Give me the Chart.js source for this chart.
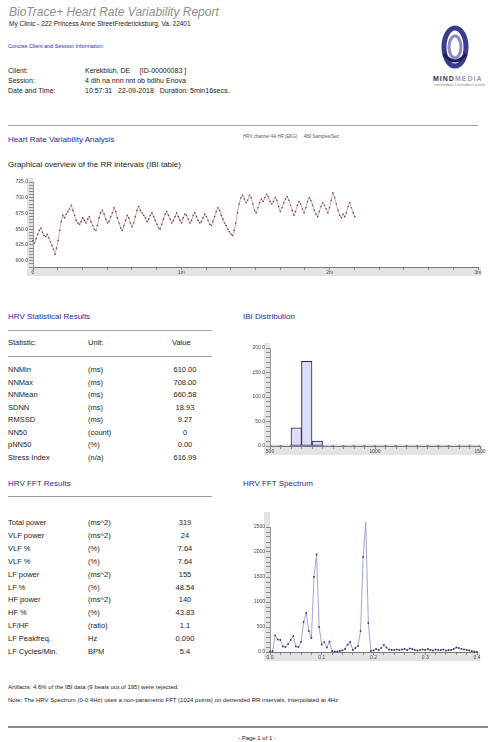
<!DOCTYPE html>
<html>
<head>
<meta charset="utf-8">
<title>BioTrace+ Heart Rate Variability Report</title>
<script src="https://cdn.jsdelivr.net/npm/chart.js@4.4.0/dist/chart.umd.min.js"></script>
<style>
  body { margin:0; width:488px; height:742px; background:#fff; position:relative; overflow:hidden;
         font-family:"Liberation Sans", Arial, sans-serif; color:#222; }
  .t { position:absolute; white-space:nowrap; line-height:1; }
  .blue { color:#2a2aa8; }
  .hr { position:absolute; height:0; border-top:1px solid #a0a0a0; }
  .box { position:absolute; }
</style>
</head>
<body>

<div class="t" style="left:9px; top:6px; font-size:12px; font-style:italic; color:#8e8e8e;">BioTrace+ Heart Rate Variability Report</div>
<div class="t" style="left:9px; top:21px; font-size:6.5px;">My Clinic - 222 Princess Anne StreetFredericksburg, Va. 22401</div>

<div class="t blue" style="left:8px; top:44px; font-size:5.4px;">Concise Client and Session Information:</div>

<div class="t" style="left:8px; top:67px; font-size:7px;">Client:</div>
<div class="t" style="left:85px; top:67px; font-size:7px;">Kerekbluh, DE &nbsp;&nbsp;&nbsp; [ID-00000083 ]</div>
<div class="t" style="left:8px; top:77px; font-size:7px;">Session:</div>
<div class="t" style="left:85px; top:77px; font-size:7px;">4 dih na nnn nnt ob bdihu Enova</div>
<div class="t" style="left:8px; top:87px; font-size:7px;">Date and Time:</div>
<div class="t" style="left:85px; top:87px; font-size:7px;">10:57:31 &nbsp; 22-09-2018 &nbsp; Duration: 5min16secs.</div>

<!-- logo -->
<svg class="box" style="left:440px; top:24px;" width="30" height="46" viewBox="0 0 30 46">
  <ellipse cx="15" cy="23" rx="11" ry="19" fill="none" stroke="#3c3c8c" stroke-width="5"/>
  <ellipse cx="15" cy="23" rx="6" ry="11" fill="none" stroke="#8a8ac8" stroke-width="3"/>
  <path d="M4 30 Q15 44 26 30" fill="none" stroke="#1c1c5c" stroke-width="3"/>
</svg>
<div class="t" style="left:433px; top:75px; font-size:7px; font-weight:bold; letter-spacing:1px;"><span style="color:#333355">MIND</span><span style="color:#9a9ab8">MEDIA</span></div>
<div class="t" style="left:434px; top:84px; font-size:3px; color:#888;">neurofeedback &amp; biofeedback systems</div>

<div class="hr" style="left:8px; top:125px; width:470px;"></div>

<div class="t blue" style="left:8px; top:136px; font-size:8px;">Heart Rate Variability Analysis</div>
<div class="t" style="left:243px; top:135px; font-size:4.5px; color:#555;">HRV channel 4A HR (EKG) &nbsp;&nbsp;&nbsp; 480 Samples/Sec</div>
<div class="t" style="left:8px; top:161px; font-size:8px;">Graphical overview of the RR intervals (IBI table)</div>

<div class="box" style="left:0; top:172px; width:488px; height:108px;"><canvas id="rrChart"></canvas></div>

<!-- statistics table -->
<div class="t blue" style="left:8px; top:313px; font-size:8px;">HRV Statistical Results</div>
<div class="hr" style="left:8px; top:330px; width:204px;"></div>
<div class="t" style="left:8px; top:339px; font-size:7.5px;">Statistic:</div>
<div class="t" style="left:88px; top:339px; font-size:7.5px;">Unit:</div>
<div class="t" style="left:172px; top:339px; font-size:7.5px;">Value</div>
<div class="hr" style="left:8px; top:356px; width:204px;"></div>
<div id="statRows"></div>

<div class="t blue" style="left:243px; top:313px; font-size:8px;">IBI Distribution</div>
<div class="box" style="left:240px; top:335px; width:248px; height:123px;"><canvas id="ibiChart"></canvas></div>

<div class="t blue" style="left:8px; top:480px; font-size:8px;">HRV FFT Results</div>
<div class="hr" style="left:8px; top:496px; width:204px;"></div>
<div id="fftRows"></div>

<div class="t blue" style="left:243px; top:480px; font-size:8px;">HRV FFT Spectrum</div>
<div class="box" style="left:240px; top:510px; width:248px; height:160px;"><canvas id="fftChart"></canvas></div>

<div class="t" style="left:8px; top:684px; font-size:6px;">Artifacts: 4.6% of the IBI data (9 beats out of 195) were rejected.</div>
<div class="t" style="left:8px; top:697px; font-size:6px;">Note: The HRV Spectrum (0-0.4Hz) uses a non-parametric FFT (1024 points) on detrended RR intervals, interpolated at 4Hz.</div>
<div class="box" style="left:8px; top:726px; width:480px; height:2px; background:#8c8c8c;"></div>
<div class="t" style="left:238px; top:735px; font-size:6px;">- Page 1 of 1 -</div>

<script>
// RR intervals (ms), one per beat
const rrIntervals = [
  632, 628, 635, 642, 648, 652, 645, 640, 638, 642, 636, 630, 624, 618, 610, 620, 632,
  648, 662, 672, 668, 674, 678, 682, 688, 680, 672, 664, 660,
  658, 662, 668, 664, 660, 666, 670, 662, 656, 650, 648, 656, 668, 676, 680, 674, 666, 660,
  662, 670, 676, 684, 678, 668, 660, 652, 648, 656, 664, 672, 668, 660, 654, 660, 670, 680, 686,
  680, 676, 672, 668, 662, 666, 672, 676, 670, 664, 658, 652, 650, 658, 666, 674, 678, 672,
  666, 660, 664, 670, 676, 670, 664, 660, 668, 674, 672, 666, 660, 664, 672, 676, 670, 664,
  660, 662, 668, 674, 670, 664, 658, 656, 662, 670, 678, 684, 680, 672, 666, 660, 656, 650, 646,
  642, 640, 648, 660, 676, 690, 700, 704, 698,
  692, 696, 704, 700, 690, 680, 676, 684, 692, 698, 694, 700, 706, 702, 694, 690, 694, 700,
  696, 686, 678, 684, 692, 698, 702, 696, 688, 680, 672, 678, 688, 694, 690, 682, 676, 684,
  694, 700, 696, 688, 680, 674, 670, 678, 686, 692, 688, 682, 676, 684, 696, 708, 700, 690,
  680, 672, 668, 674, 670, 676, 686, 692, 684, 676, 670
];
const rrTimeTicks = [0, 60, 120, 180];
const rrTimeLabels = ["0", "1m", "2m", "3m"];
const rrValueTicks = [600, 625, 650, 675, 700, 725];

// IBI histogram: bin start (ms) and beat count
const ibiBinStarts = [500, 550, 600, 650, 700, 750, 800, 850, 900, 950,
                      1000, 1050, 1100, 1150, 1200, 1250, 1300, 1350, 1400, 1450];
const ibiCounts = [0, 0, 37, 173, 10, 0, 0, 0, 0, 0, 0, 0, 0, 0, 0, 0, 0, 0, 0, 0];
const ibiTickLabels = ["500", "1000", "1500"];

// FFT spectrum (ms^2/Hz) on a 0.005 Hz grid from 0 to 0.4 Hz
const fftStepHz = 0.005;
const fftPower = [
  10, 20, 330, 250, 240, 110, 100, 160, 240, 320, 110, 100, 200, 600, 780, 420, 280,
  1500, 1950, 500, 150, 200, 90, 210, 20, 10, 10, 20, 30, 60, 150, 200, 40, 80, 120,
  420, 1900, 2590, 580, 20, 30, 60, 40, 80, 140, 90, 50, 40, 40, 50, 40, 50, 60, 40,
  70, 60, 40, 30, 40, 50, 40, 60, 40, 30, 50, 40, 40, 50, 30, 40, 40, 60, 90, 80, 60,
  50, 40, 30, 20, 10, 0
];
const fftTickLabels = ["0.0", "0.1", "0.2", "0.3", "0.4"];

const statRows = [
  ["NNMin", "(ms)", "610.00"],
  ["NNMax", "(ms)", "708.00"],
  ["NNMean", "(ms)", "660.58"],
  ["SDNN", "(ms)", "18.93"],
  ["RMSSD", "(ms)", "9.27"],
  ["NN50", "(count)", "0"],
  ["pNN50", "(%)", "0.00"],
  ["Stress Index", "(n/a)", "616.99"]
];
const fftRows = [
  ["Total power", "(ms^2)", "319"],
  ["VLF power", "(ms^2)", "24"],
  ["VLF %", "(%)", "7.64"],
  ["VLF %", "(%)", "7.64"],
  ["LF power", "(ms^2)", "155"],
  ["LF %", "(%)", "48.54"],
  ["HF power", "(ms^2)", "140"],
  ["HF %", "(%)", "43.83"],
  ["LF/HF", "(ratio)", "1.1"],
  ["LF Peakfreq.", "Hz", "0.090"],
  ["LF Cycles/Min.", "BPM", "5.4"]
];

function injectRows(targetId, rows, firstTop, gap) {
  const target = document.getElementById(targetId);
  target.innerHTML = "";
  rows.forEach((row, i) => {
    const top = firstTop + i * gap;
    target.innerHTML +=
      `<div class="t" style="left:8px; top:${top}px; font-size:7.5px;">${row[0]}</div>` +
      `<div class="t" style="left:88px; top:${top}px; font-size:7.5px;">${row[1]}</div>` +
      `<div class="t" style="left:150px; width:70px; text-align:center; top:${top}px; font-size:7.5px;">${row[2]}</div>`;
  });
}

// grey bands behind the axes, like the BioTrace rulers
const bandPlugin = {
  id: "bands",
  beforeDraw(chart, args, opts) {
    const { ctx, chartArea: a } = chart;
    const extra = opts.extra || 0;
    ctx.save();
    ctx.fillStyle = "#e3e3e3";
    ctx.fillRect(a.left - 6, a.top - extra, 6, a.bottom - a.top + extra);
    ctx.fillRect(a.left - 6, a.bottom, a.right - a.left + 9, 9);
    ctx.restore();
  }
};

function axisFont() {
  return { family: "Liberation Sans", size: 5 };
}

function baseOptions(pad, yWidth, extra) {
  return {
    responsive: true,
    maintainAspectRatio: false,
    animation: false,
    layout: { padding: pad },
    plugins: { legend: { display: false }, tooltip: { enabled: false }, bands: { extra: extra } },
    scales: {
      x: {
        type: "linear",
        offset: false,
        afterFit: (s) => { s.height = 9; },
        border: { display: true, color: "#777" },
        grid: { offset: false, drawOnChartArea: false, drawTicks: true, tickLength: 3, color: "#888" },
        ticks: { font: axisFont(), color: "#444", padding: 0, maxRotation: 0, autoSkip: false }
      },
      y: {
        afterFit: (s) => { s.width = yWidth; },
        border: { display: true, color: "#999" },
        grid: { drawOnChartArea: false, drawTicks: true, tickLength: 4, color: "#888" },
        ticks: { font: axisFont(), color: "#444", padding: 1, autoSkip: false }
      }
    }
  };
}

function initRRChart() {
  // beat times from the running sum of the intervals
  let t = 0;
  const points = rrIntervals.map((rr) => {
    const p = { x: t, y: rr };
    t += rr / 1000;
    return p;
  });
  const options = baseOptions({ top: 10, right: 10, bottom: 4, left: 0 }, 33, 4);
  Object.assign(options.scales.x, { min: 0, max: 180 });
  options.scales.x.ticks.stepSize = 10;
  options.scales.x.ticks.callback = (v) => {
    const i = rrTimeTicks.indexOf(v);
    return i >= 0 ? rrTimeLabels[i] : "";
  };
  Object.assign(options.scales.y, { min: 590, max: 725 });
  options.scales.y.ticks.stepSize = 5;
  options.scales.y.ticks.callback = (v) => (rrValueTicks.includes(v) ? v.toFixed(1) : "");
  return new Chart(document.getElementById("rrChart"), {
    type: "line",
    data: {
      datasets: [{
        data: points,
        borderColor: "#dc8c8c",
        borderWidth: 0.8,
        pointRadius: 0.8,
        pointBorderWidth: 0,
        pointBackgroundColor: "#5a4848",
        tension: 0,
        clip: false
      }]
    },
    options: options,
    plugins: [bandPlugin]
  });
}

function initIBIChart() {
  const bars = ibiBinStarts.map((b, i) => ({ x: b + 25, y: ibiCounts[i] }));
  const options = baseOptions({ top: 13, right: 8, bottom: 3, left: 0 }, 30, 5);
  Object.assign(options.scales.x, { min: 500, max: 1500 });
  options.scales.x.ticks.stepSize = 50;
  options.scales.x.ticks.callback = (v) => (ibiTickLabels.includes(String(v)) ? String(v) : "");
  Object.assign(options.scales.y, { min: 0, max: 200 });
  options.scales.y.ticks.stepSize = 10;
  options.scales.y.ticks.callback = (v) => (v % 50 === 0 ? v.toFixed(1) : "");
  return new Chart(document.getElementById("ibiChart"), {
    type: "bar",
    data: {
      datasets: [{
        data: bars,
        backgroundColor: "#dcdcf6",
        borderColor: "#1e1e55",
        borderWidth: 1,
        borderSkipped: false,
        minBarLength: 1,
        barPercentage: 1,
        categoryPercentage: 1
      }]
    },
    options: options,
    plugins: [bandPlugin]
  });
}

function initFFTChart() {
  const points = fftPower.map((p, i) => ({ x: i * fftStepHz, y: p }));
  const options = baseOptions({ top: 17, right: 11, bottom: 9, left: 0 }, 30, 15);
  Object.assign(options.scales.x, { min: 0, max: 0.4 });
  options.scales.x.ticks.stepSize = 0.02;
  options.scales.x.ticks.callback = (v) => {
    const k = Math.round(v * 100);
    return k % 10 === 0 ? fftTickLabels[k / 10] : "";
  };
  Object.assign(options.scales.y, { min: 0, max: 2500 });
  options.scales.y.ticks.stepSize = 100;
  options.scales.y.ticks.callback = (v) => (v === 0 ? "0.0" : v % 500 === 0 ? String(v) : "");
  return new Chart(document.getElementById("fftChart"), {
    type: "line",
    data: {
      datasets: [{
        data: points,
        borderColor: "#8c8cd0",
        borderWidth: 0.8,
        pointRadius: 0.9,
        pointBorderWidth: 0,
        pointBackgroundColor: "#3a3a66",
        tension: 0,
        clip: false
      }]
    },
    options: options,
    plugins: [bandPlugin]
  });
}

function mainEvent() {
  injectRows("statRows", statRows, 366, 12.5);
  injectRows("fftRows", fftRows, 519, 12.9);
  initRRChart();
  initIBIChart();
  initFFTChart();
}

document.addEventListener("DOMContentLoaded", () => mainEvent());
</script>
</body>
</html>
